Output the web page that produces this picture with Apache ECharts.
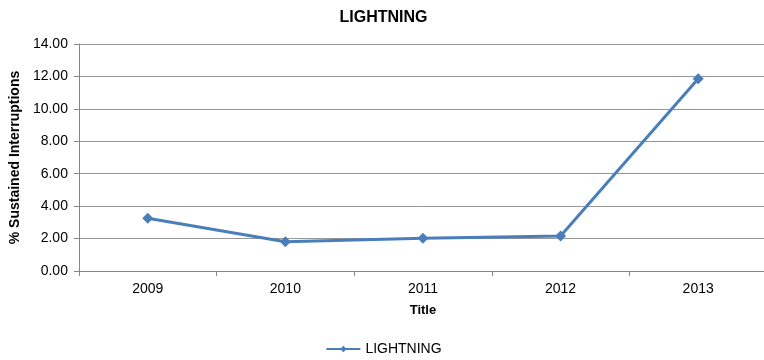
<!DOCTYPE html>
<html>
<head>
<meta charset="utf-8">
<script src="https://cdn.jsdelivr.net/npm/echarts@6/dist/echarts.min.js"></script>
<style>
  html, body { margin: 0; padding: 0; background: #fff; overflow: hidden; }
  #chart { width: 767px; height: 360px; }
</style>
</head>
<body>
<div id="chart"></div>
<script>
// 数据
const years = ['2009', '2010', '2011', '2012', '2013']
const lightning = [3.25, 1.80, 2.02, 2.16, 11.86]
const yTicks = { min: 0, max: 14, step: 2 }

const chart = echarts.init(document.getElementById('chart'))
chart.setOption({
  animation: false,
  textStyle: { fontFamily: 'Liberation Sans, Arial, sans-serif' },
  title: {
    text: 'LIGHTNING',
    left: 'center',
    top: 5,
    textStyle: { fontSize: 16, fontWeight: 'bold', color: '#000' }
  },
  legend: {
    top: 337,
    left: 'center',
    itemWidth: 34,
    itemHeight: 8,
    itemGap: 3,
    textStyle: { fontSize: 14, color: '#000' },
    data: ['LIGHTNING']
  },
  grid: {
    left: 78,
    right: 0,
    top: 44,
    bottom: 89
  },
  xAxis: {
    type: 'category',
    data: years,
    boundaryGap: true,
    name: 'Title',
    nameLocation: 'middle',
    nameGap: 33,
    nameTextStyle: { fontSize: 13, fontWeight: 'bold', color: '#000' },
    axisLine: { lineStyle: { color: '#868686', width: 1 } },
    axisTick: { show: true, alignWithLabel: false, length: 5, lineStyle: { color: '#868686' } },
    axisLabel: { fontSize: 14, color: '#000', margin: 11 }
  },
  yAxis: {
    type: 'value',
    min: yTicks.min,
    max: yTicks.max,
    interval: yTicks.step,
    name: '% Sustained Interruptions',
    nameLocation: 'middle',
    nameGap: 56,
    nameTextStyle: { fontSize: 14, fontWeight: 'bold', color: '#000' },
    axisLine: { show: true, lineStyle: { color: '#868686', width: 1 } },
    axisTick: { show: true, length: 5, lineStyle: { color: '#868686' } },
    axisLabel: {
      fontSize: 14,
      color: '#000',
      margin: 11,
      formatter: v => v.toFixed(2)
    },
    splitLine: { lineStyle: { color: '#979797', width: 1 } }
  },
  series: [{
    name: 'LIGHTNING',
    type: 'line',
    data: lightning,
    symbol: 'diamond',
    symbolSize: 11,
    lineStyle: { width: 3, color: '#4a7ebb' },
    itemStyle: { color: '#4a7ebb' }
  }]
})
</script>
</body>
</html>
